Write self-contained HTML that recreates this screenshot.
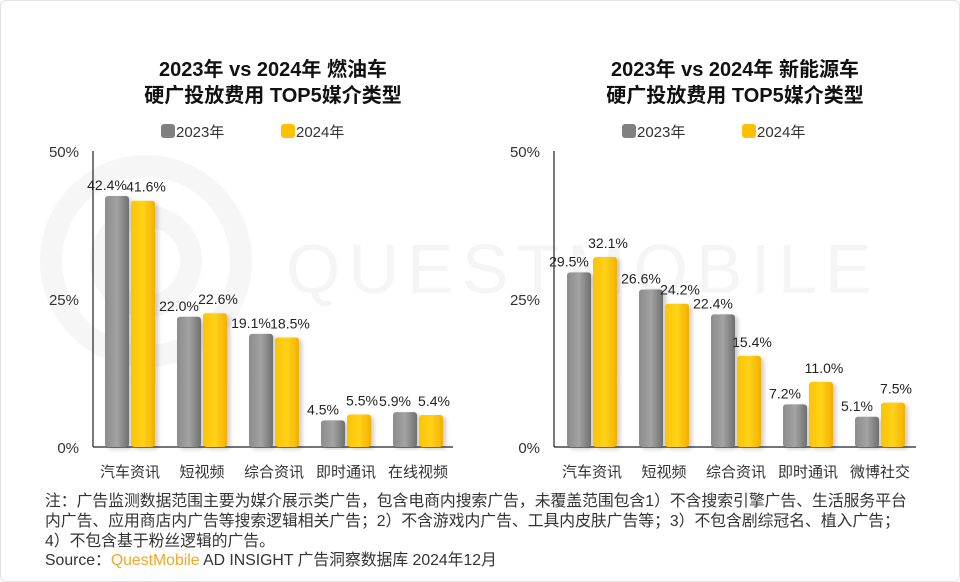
<!DOCTYPE html>
<html><head><meta charset="utf-8"><style>
body{margin:0;background:#fff;font-family:"Liberation Sans","Noto Sans CJK SC",sans-serif;}
#root{position:relative;width:958px;height:580px;border:1px solid #e3e3e3;border-radius:6px;overflow:hidden;background:#fff}
.note{position:absolute;left:44px;font-size:15.8px;color:#333;white-space:nowrap;letter-spacing:0px}
</style></head><body>
<div id="root">
<svg id="svg" width="958" height="580" style="position:absolute;left:0;top:0">
<defs>
<linearGradient id="gG" x1="0" x2="1"><stop offset="0" stop-color="#8c8c8c"/><stop offset="0.5" stop-color="#a3a3a3"/><stop offset="1" stop-color="#6e6e6e"/></linearGradient>
<linearGradient id="gY" x1="0" x2="1"><stop offset="0" stop-color="#ffc400"/><stop offset="0.5" stop-color="#ffd21a"/><stop offset="1" stop-color="#f5b000"/></linearGradient>
<filter id="sh" x="-30%" y="-10%" width="160%" height="120%"><feDropShadow dx="3" dy="2" stdDeviation="2" flood-color="#000" flood-opacity="0.2"/></filter>
</defs>
<g fill="none" stroke="#f6f6f6" stroke-width="22">
<circle cx="145" cy="260" r="95"/><circle cx="145" cy="260" r="45"/>
</g>
<text x="285" y="292" font-size="70" fill="#f5f5f5" font-family="Liberation Sans" letter-spacing="8">QUESTMOBILE</text>
</svg>
<div class="note" style="top:487px">注：广告监测数据范围主要为媒介展示类广告，包含电商内搜索广告，未覆盖范围包含1）不含搜索引擎广告、生活服务平台</div>
<div class="note" style="top:507px">内广告、应用商店内广告等搜索逻辑相关广告；2）不含游戏内广告、工具内皮肤广告等；3）不包含剧综冠名、植入广告；</div>
<div class="note" style="top:527px">4）不包含基于粉丝逻辑的广告。</div>
<div class="note" style="top:546px">Source：<span style="color:#f5a623">QuestMobile</span> AD INSIGHT 广告洞察数据库 2024年12月</div>
</div>
<script>
const leftCategories=["汽车资讯","短视频","综合资讯","即时通讯","在线视频"];
const left2023=[42.4,22.0,19.1,4.5,5.9];
const left2024=[41.6,22.6,18.5,5.5,5.4];
const rightCategories=["汽车资讯","短视频","综合资讯","即时通讯","微博社交"];
const right2023=[29.5,26.6,22.4,7.2,5.1];
const right2024=[32.1,24.2,15.4,11.0,7.5];
const yTicks=[0,25,50];
const NS="http://www.w3.org/2000/svg";
const svg=document.getElementById('svg');
function mk(tag,attrs,parent){const e=document.createElementNS(NS,tag);for(const k in attrs)e.setAttribute(k,attrs[k]);(parent||svg).appendChild(e);return e;}
function yScale(v){return 446-v*5.92;}
function chart(prefix,axisX,endX,firstX,title1,title2,cats,s1,s2){
  const g=mk('g',{});
  
  
  const cx=(axisX+endX)/2;
  let t=mk('text',{x:cx,y:75,'text-anchor':'middle','font-size':20,'font-weight':'bold',fill:'#111'},g);t.textContent=title1;
  
  t=mk('text',{x:cx,y:101,'text-anchor':'middle','font-size':20,'font-weight':'bold',fill:'#111'},g);t.textContent=title2;
  
  const lx=axisX+68;
  let r=mk('rect',{x:lx,y:123,width:14,height:14,rx:3,fill:'#808080'},g);
  
  t=mk('text',{x:lx+15,y:136,'font-size':15,fill:'#333'},g);t.textContent='2023年';
  
  r=mk('rect',{x:lx+120,y:123,width:14,height:14,rx:3,fill:'#ffc000'},g);
  
  t=mk('text',{x:lx+135,y:136,'font-size':15,fill:'#333'},g);t.textContent='2024年';
  
  yTicks.forEach(v=>{const tt=mk('text',{x:axisX-14,y:yScale(v)+6,'text-anchor':'end','font-size':15,fill:'#333'},g);tt.textContent=v+'%';
    });
  let l=mk('line',{x1:axisX,y1:yScale(50),x2:axisX,y2:446,stroke:'#222','stroke-width':1.2},g);
  
  l=mk('line',{x1:axisX,y1:446,x2:endX,y2:446,stroke:'#222','stroke-width':1.2},g);
  
  cats.forEach((c,i)=>{
    const x0=firstX+i*72;
    [[s1[i],'url(#gG)',0,'2023',-10],[s2[i],'url(#gY)',26,'2024',3]].forEach(([v,f,off,yr,lo])=>{
      const y=yScale(v);
      const b=mk('rect',{x:x0+off,y:y,width:24,height:446-y,rx:3,fill:f,filter:'url(#sh)'},g);
      
      
      const lb=mk('text',{x:x0+off+12+lo,y:y-(yr==='2023'?6:9),'text-anchor':'middle','font-size':14,fill:'#222'},g);
      lb.textContent=v.toFixed(1)+'%';
      
      
    });
    const ct=mk('text',{x:x0+25,y:476,'text-anchor':'middle','font-size':15,fill:'#333'},g);ct.textContent=c;
    
  });
}
chart('left',92,452,104,'2023年 vs 2024年 燃油车','硬广投放费用 TOP5媒介类型',leftCategories,left2023,left2024);
chart('right',553,915,566,'2023年 vs 2024年 新能源车','硬广投放费用 TOP5媒介类型',rightCategories,right2023,right2024);
</script>
</body></html>
